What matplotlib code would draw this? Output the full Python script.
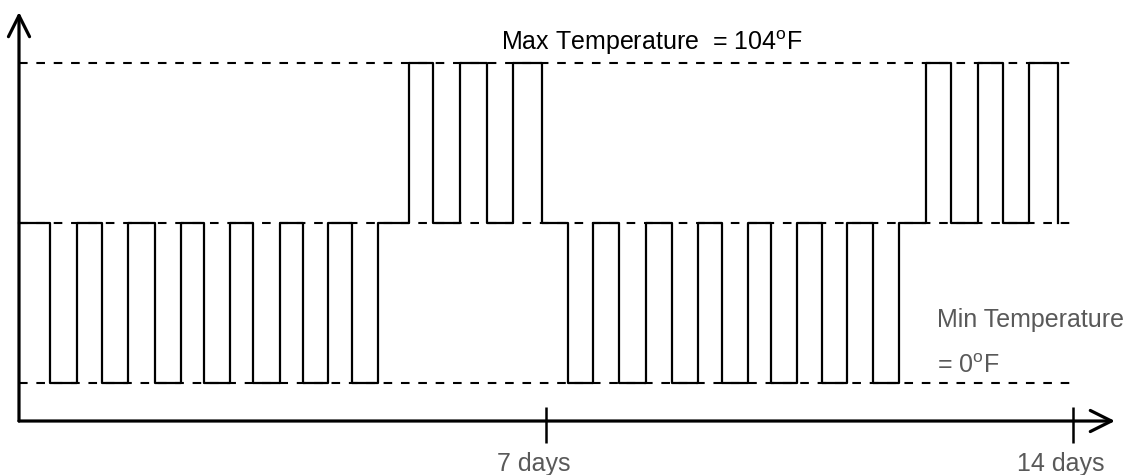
import matplotlib.pyplot as plt

plt.rcParams['font.family'] = ['Liberation Sans', 'DejaVu Sans']
plt.rcParams['mathtext.fontset'] = 'custom'
plt.rcParams['mathtext.rm'] = 'Liberation Sans'
plt.rcParams['lines.scale_dashes'] = False

# temperature levels (deg F)
max_temp = 104
min_temp = 0
mid_temp = 52

# day at which the setpoint switches, and the level it switches to
switch_days = [0.41, 0.77, 1.10, 1.45, 1.81, 2.15, 2.46, 2.80, 3.11, 3.47,
               3.77, 4.10, 4.42, 4.77, 5.18, 5.50, 5.86, 6.22, 6.56, 6.95,
               7.29, 7.62, 7.97, 8.33, 8.67, 9.02, 9.34, 9.68, 9.99, 10.33,
               10.66, 11.00, 11.34, 11.69, 12.05, 12.38, 12.74, 13.07, 13.41, 13.80]
L, M, H = min_temp, mid_temp, max_temp
switch_levels = [L, M, L, M, L, M, L, M, L, M, L, M, L, M,
                 H, M, H, M, H, M,
                 L, M, L, M, L, M, L, M, L, M, L, M, L, M,
                 H, M, H, M, H, M]

tick_days = [7, 14]
tick_labels = ['7 days', '14 days']

fig = plt.figure(figsize=(11.32, 4.75), dpi=100)
ax = fig.add_axes([0, 0, 1, 1])
ax.set_xlim(-0.2523, 14.781)
ax.set_ylim(-29.9, 124.5)
ax.axis('off')

# reference levels
for lev in [max_temp, mid_temp, min_temp]:
    ax.plot([0, 14.0], [lev, lev], color='black', lw=1.5, dashes=(6.2, 6.3))

# the square wave
ax.step([0] + switch_days, [mid_temp] + switch_levels, where='post',
        color='black', lw=1.6)

# axes with arrow heads
x_axis_y = -12.35
ax.annotate('', xy=(0, 120.6), xytext=(0, x_axis_y),
            arrowprops=dict(arrowstyle='->', lw=2.3, mutation_scale=38,
                            shrinkA=0, shrinkB=0, color='black'))
ax.annotate('', xy=(14.555, x_axis_y), xytext=(0, x_axis_y),
            arrowprops=dict(arrowstyle='->', lw=2.3, mutation_scale=38,
                            shrinkA=0, shrinkB=0, color='black'))

ax.vlines(tick_days, -19.5, -7.8, color='black', lw=1.8)
for d, lab in zip(tick_days, tick_labels):
    ax.text(d - 0.17, -28.6, lab, ha='center', va='baseline',
            fontsize=18, color='#595959')

ax.text(6.40, 108.2, r'Max Temperature  = 104$^{\mathrm{o}}$F',
        ha='left', va='baseline', fontsize=18, color='black')
ax.text(12.19, 18.2, 'Min Temperature', ha='left', va='baseline',
        fontsize=18, color='#595959')
ax.text(12.19, 3.25, r'= 0$^{\mathrm{o}}$F', ha='left', va='baseline',
        fontsize=18, color='#595959')

fig.savefig('out.png', dpi=100)
